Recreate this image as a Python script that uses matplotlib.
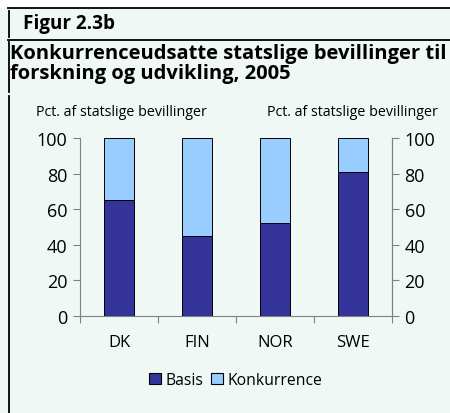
import matplotlib
matplotlib.use("Agg")
import matplotlib.pyplot as plt
from matplotlib.patches import Patch
from matplotlib.lines import Line2D

categories = ["DK", "FIN", "NOR", "SWE"]
basis = [65, 45, 52, 81]
konkurrence = [35, 55, 48, 19]
yticks = [0, 20, 40, 60, 80, 100]

BG = "#eff8f5"
DARK = "#333399"
LIGHT = "#99ccff"
AX = "#808080"
FONT = "Open Sans"

plt.rcParams["font.family"] = [FONT, "DejaVu Sans"]

fig = plt.figure(figsize=(4.5, 4.14), dpi=100)
fig.patch.set_facecolor(BG)

W, H = 450, 414
def fx(x): return x / W
def fy(y): return 1 - y / H

# white strip above top line
fig.patches.append(plt.Rectangle((0, fy(9)), 1, 1 - fy(9), transform=fig.transFigure,
                                 facecolor="white", edgecolor="none", zorder=0))
# frame lines
fig.add_artist(Line2D([fx(8), 1], [fy(9), fy(9)], color="black", lw=1.3, transform=fig.transFigure))
fig.add_artist(Line2D([fx(8), 1], [fy(40.5), fy(40.5)], color="black", lw=1.3, transform=fig.transFigure))
for y0, y1 in [(12, 38), (43, 93), (97, 414)]:
    fig.add_artist(Line2D([fx(9), fx(9)], [fy(y0), fy(y1)], color="black", lw=1.3, transform=fig.transFigure))

fig.text(fx(23), fy(24), "Figur 2.3b", fontsize=13.6, fontweight="bold", ha="left", va="center")
fig.text(fx(10), fy(54), "Konkurrenceudsatte statslige bevillinger til", fontsize=14.5,
         fontweight="bold", ha="left", va="center")
fig.text(fx(10), fy(74), "forskning og udvikling, 2005", fontsize=14.5,
         fontweight="bold", ha="left", va="center")

ax = fig.add_axes([fx(80), fy(317), fx(392) - fx(80), fy(139) - fy(317)])
ax.set_facecolor(BG)
x = range(len(categories))
ax.bar(x, basis, width=0.385, color=DARK, edgecolor="black", linewidth=0.7, label="Basis", zorder=3)
ax.bar(x, konkurrence, width=0.385, bottom=basis, color=LIGHT, edgecolor="black", linewidth=0.7,
       label="Konkurrence", zorder=3)
ax.set_xlim(-0.5, 3.5)
ax.set_ylim(0, 100)
ax.set_yticks(yticks)
ax.set_xticks(list(x))
ax.set_xticklabels(categories, fontsize=12)
ax.tick_params(axis="x", length=0, pad=13)
ax.set_xticks([-0.5, 0.5, 1.5, 2.5, 3.5], minor=True)
ax.tick_params(axis="x", which="minor", length=5, color=AX, width=0.8)
ax.tick_params(axis="y", length=5, color=AX, width=0.8, labelsize=13, pad=4)
for s in ["top"]:
    ax.spines[s].set_visible(False)
for s in ["left", "right", "bottom"]:
    ax.spines[s].set_color(AX)
    ax.spines[s].set_linewidth(0.8)

ax2 = ax.twinx()
ax2.set_ylim(0, 100)
ax2.set_yticks(yticks)
ax2.tick_params(axis="y", length=5, color=AX, width=0.8, labelsize=13, pad=4)
for s in ["top", "left", "bottom"]:
    ax2.spines[s].set_visible(False)
ax2.spines["right"].set_color(AX)
ax2.spines["right"].set_linewidth(0.8)

fig.text(fx(36), fy(113), "Pct. af statslige bevillinger", fontsize=10.3, ha="left", va="center")
fig.text(fx(438), fy(113), "Pct. af statslige bevillinger", fontsize=10.3, ha="right", va="center")

handles = [Patch(facecolor=DARK, edgecolor="black", linewidth=0.8, label="Basis"),
           Patch(facecolor=LIGHT, edgecolor="black", linewidth=0.8, label="Konkurrence")]
fig.legend(handles=handles, loc="center", bbox_to_anchor=(fx(236), fy(381)), ncol=2, frameon=False,
           fontsize=11.3, handlelength=0.75, handleheight=0.75, handletextpad=0.3, columnspacing=0.5)

fig.savefig("out.png", dpi=100, facecolor=BG)
